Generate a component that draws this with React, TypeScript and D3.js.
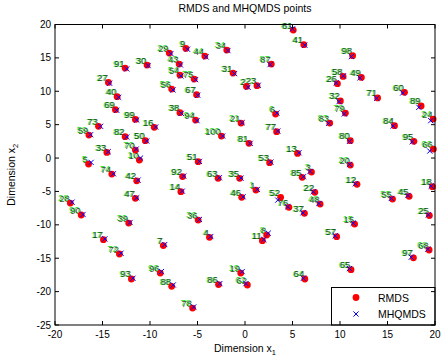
import React from "react";
import * as d3 from "d3";

const title = "RMDS and MHQMDS points";
const xTicks = [-20, -15, -10, -5, 0, 5, 10, 15, 20];
const yTicks = [-25, -20, -15, -10, -5, 0, 5, 10, 15, 20];

// point ids 1..100, RMDS coordinates
const rmdsX = [1.15,0.15,7.0,-3.74,-16.47,3.22,-8.6,2.28,-6.22,-11.12,1.83,11.79,5.53,-6.75,11.54,-9.55,-14.9,19.73,-0.45,11.09,-0.42,7.35,1.26,19.8,19.41,9.73,-14.38,-18.39,-7.97,-10.31,-1.26,10.04,-14.54,-1.92,-0.56,-4.93,6.26,-6.85,-12.24,-13.46,6.19,-11.4,-6.93,-4.23,17.28,-0.35,-11.54,7.91,12.25,-10.49,-4.93,3.75,2.59,-6.85,15.53,-7.72,9.65,10.33,-16.43,16.79,5.08,0.25,-2.83,6.3,11.16,19.83,-5.1,19.38,-13.64,-11.54,13.96,-13.22,-15.42,-14.02,-5.35,4.62,3.33,-5.52,10.57,11.09,0.42,-12.62,8.92,15.74,6.02,-2.79,2.77,-7.72,18.54,-17.24,-12.62,-6.57,-11.96,-5.2,17.78,-8.92,17.73,11.33,-11.54,-2.48];
const rmdsY = [-4.79,10.73,-2.1,-11.87,-0.9,6.59,-13.11,-11.53,16.42,-0.3,-12.37,-3.94,0.7,-5.03,-9.88,4.6,-12.22,-4.28,-17.22,-1.05,5.24,-5.13,10.84,5.84,-8.62,11.14,11.33,-6.74,15.72,13.92,12.72,8.56,0.85,16.17,-3.04,-9.28,-8.28,6.8,-9.73,9.19,16.98,-3.41,14.07,15.27,-5.73,-5.88,-6.03,-6.89,12.08,2.6,-0.54,-5.88,-0.69,12.43,-6.14,10.33,-11.77,12.23,3.44,9.84,19.16,-19.01,-3.04,-18.11,-16.71,1.35,9.49,-13.77,7.25,1.2,9.01,-14.37,4.75,-2.4,11.83,-7.38,3.95,-22.46,6.74,2.6,2.2,3.2,5.24,4.85,-2.89,-18.95,14.07,-19.21,7.81,-8.53,13.47,-2.78,-18.11,5.69,2.5,-17.22,-14.94,15.33,5.79,3.29];

// MHQMDS coordinates
const mhqX = [1.3,0.32,6.85,-3.6,-16.2,3.35,-8.45,2.45,-6.05,-11.0,1.98,11.62,5.68,-6.6,11.4,-9.4,-14.75,19.6,-0.3,11.0,-0.3,7.2,1.4,19.55,19.3,9.6,-14.25,-18.2,-7.8,-10.2,-1.1,9.9,-14.4,-1.8,-0.42,-4.8,6.1,-6.7,-12.1,-13.3,6.3,-11.25,-6.8,-4.1,17.15,-0.2,-11.4,7.78,12.1,-10.35,-4.8,3.45,2.72,-6.75,15.4,-7.58,9.5,10.35,-16.25,16.6,5.0,0.1,-2.7,6.15,11.0,19.45,-4.97,19.25,-13.5,-11.45,13.85,-13.05,-15.2,-13.85,-5.2,4.5,3.45,-5.4,10.45,11.0,0.55,-12.45,8.8,15.6,6.15,-2.65,2.65,-7.55,18.3,-17.05,-12.45,-6.45,-11.8,-5.05,17.6,-8.8,17.5,11.2,-11.4,-2.35];
const mhqY = [-4.7,10.6,-2.0,-11.75,-0.65,6.75,-12.95,-11.25,16.3,0.0,-12.2,-3.85,0.8,-4.95,-9.75,4.65,-12.1,-4.2,-17.0,-0.95,5.3,-5.05,10.9,5.6,-8.5,11.25,11.2,-6.6,15.65,13.85,12.65,8.45,0.95,16.1,-3.0,-9.2,-8.2,6.7,-9.65,9.1,16.9,-3.3,13.95,15.15,-5.6,-5.8,-5.95,-6.8,12.0,2.55,-0.5,-6.3,-0.6,12.3,-6.05,10.2,-11.65,12.3,3.5,9.75,19.35,-18.8,-2.95,-18.0,-16.55,1.05,9.4,-13.65,7.15,1.35,8.95,-14.25,4.75,-2.35,11.75,-7.3,4.05,-22.3,6.6,2.5,2.2,3.15,5.2,4.8,-2.8,-18.8,14.0,-19.0,7.6,-8.45,13.35,-2.7,-18.0,5.6,2.45,-17.0,-14.85,15.2,5.7,3.3];

const W = 442, H = 362;
const M = { left: 55, top: 24.5, right: 435, bottom: 325 };
const FONT = "'Liberation Sans', Arial, sans-serif";

export default function App() {
  const x = d3.scaleLinear().domain([-20, 20]).range([M.left, M.right]);
  const y = d3.scaleLinear().domain([-25, 20]).range([M.bottom, M.top]);
  const ids = d3.range(1, rmdsX.length + 1);
  const tl = 4;
  const cross = (cx: number, cy: number, s: number, key: any) => (
    <path key={key} d={`M${cx - s},${cy - s}L${cx + s},${cy + s}M${cx - s},${cy + s}L${cx + s},${cy - s}`} stroke="#0000ff" strokeWidth={1} fill="none" />
  );
  return (
    <svg width={W} height={H} style={{ position: "absolute", left: 0, top: 0, background: "#fff" }} fontFamily={FONT}>
      <rect x={0} y={0} width={W} height={H} fill="#fff" />
      <text x={(M.left + M.right) / 2} y={12} textAnchor="middle" fontSize={10.5}>{title}</text>
      <defs>
        <clipPath id="clip"><rect x={M.left - 4} y={M.top - 12} width={M.right - M.left + 8} height={M.bottom - M.top + 16} /></clipPath>
      </defs>
      <g clipPath="url(#clip)">
        {ids.map((id, i) => (
          <g key={id}>
            <text x={x(rmdsX[i]) - 1.6} y={y(rmdsY[i]) - 1.6} textAnchor="end" fontSize={9.5} fill="#22dd22">{id}</text>
            <text x={x(rmdsX[i]) - 0.4} y={y(rmdsY[i]) - 1.5} textAnchor="end" fontSize={9.5} fill="#0a1f0a" fillOpacity={0.82}>{id}</text>
          </g>
        ))}
        {ids.map((id, i) => (
          <circle key={"r" + id} cx={x(rmdsX[i])} cy={y(rmdsY[i])} r={3.4} fill="#ff0000" />
        ))}
        {ids.map((id, i) => cross(x(mhqX[i]), y(mhqY[i]), 2.6, "b" + id))}
      </g>
      {/* legend */}
      <rect x={331.5} y={287.5} width={M.right - 331.5} height={M.bottom - 287.5} fill="#fff" stroke="#000" strokeWidth={1} />
      <circle cx={356} cy={297.5} r={3.4} fill="#ff0000" />
      {cross(356, 314, 2.6, "lg")}
      <text x={378} y={301.5} fontSize={10.5}>RMDS</text>
      <text x={378} y={318} fontSize={10.5}>MHQMDS</text>
      {/* axes box */}
      <rect x={M.left} y={M.top} width={M.right - M.left} height={M.bottom - M.top} fill="none" stroke="#000" strokeWidth={1} />
      {xTicks.map((t) => (
        <g key={"x" + t}>
          <line x1={x(t)} x2={x(t)} y1={M.bottom} y2={M.bottom - tl} stroke="#000" />
          <line x1={x(t)} x2={x(t)} y1={M.top} y2={M.top + tl} stroke="#000" />
          <text x={x(t)} y={M.bottom + 13} textAnchor="middle" fontSize={10}>{t}</text>
        </g>
      ))}
      {yTicks.map((t) => (
        <g key={"y" + t}>
          <line x1={M.left} x2={M.left + tl} y1={y(t)} y2={y(t)} stroke="#000" />
          <line x1={M.right} x2={M.right - tl} y1={y(t)} y2={y(t)} stroke="#000" />
          <text x={M.left - 4} y={y(t) + 3.5} textAnchor="end" fontSize={10}>{t}</text>
        </g>
      ))}
      <text x={(M.left + M.right) / 2} y={352} textAnchor="middle" fontSize={10.5}>
        Dimension x<tspan fontSize={7.5} dy={3}>1</tspan>
      </text>
      <text transform={`translate(15,${(M.top + M.bottom) / 2}) rotate(-90)`} textAnchor="middle" fontSize={10.5}>
        Dimension x<tspan fontSize={7.5} dy={3}>2</tspan>
      </text>
    </svg>
  );
}
